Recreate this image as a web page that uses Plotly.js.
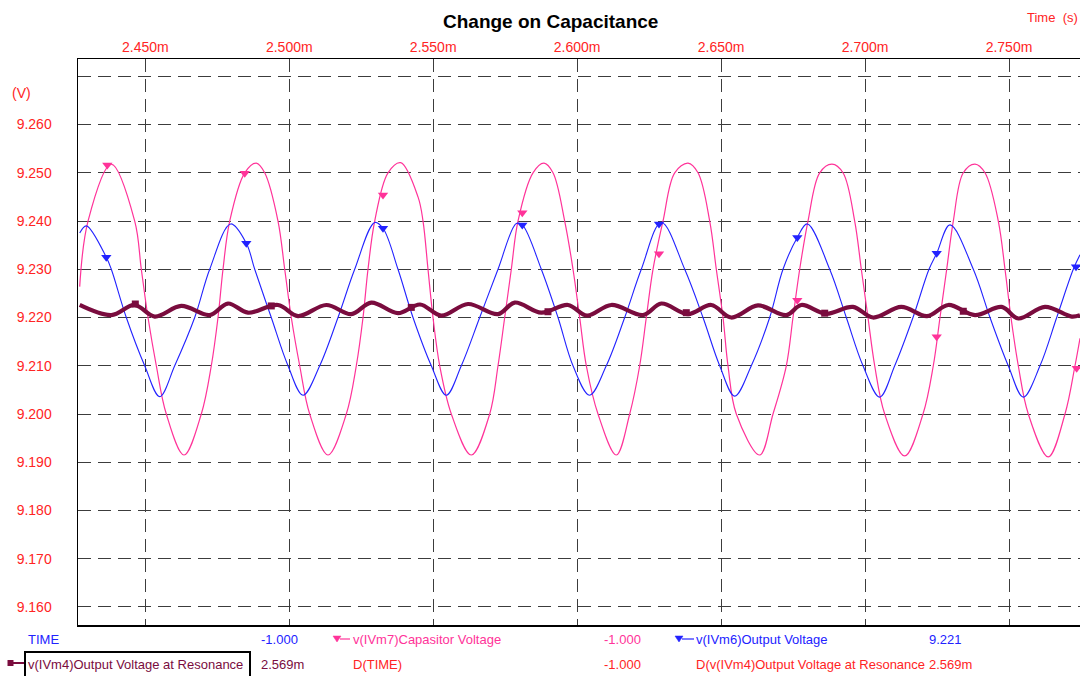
<!DOCTYPE html>
<html>
<head>
<meta charset="utf-8">
<script src="https://cdn.plot.ly/plotly-3.0.1.min.js"></script>
<style>
html,body{margin:0;padding:0;background:#fff;}
#chart{width:1080px;height:676px;}
</style>
</head>
<body>
<div id="chart"></div>
<script>
// ---------- data (time in ms, voltage in V) ----------
const pinkT = [2.42721,2.43010,2.43819,2.44632,2.44861,2.45094,2.45382,2.45729,2.46344,2.46945,2.47292,2.47525,2.47699,2.47932,2.48453,2.48855,2.49147,2.49609,2.49842,2.50071,2.50363,2.50710,2.51346,2.51982,2.52329,2.52562,2.52735,2.52968,2.53430,2.53871,2.54472,2.54646,2.54819,2.54993,2.55226,2.55629,2.56323,2.56962,2.57251,2.57483,2.57713,2.57945,2.58466,2.58848,2.59161,2.59567,2.59856,2.60088,2.60318,2.60724,2.61360,2.61825,2.62172,2.62402,2.62634,2.62982,2.63388,2.63850,2.64198,2.64604,2.64833,2.65066,2.65239,2.65528,2.66341,2.66803,2.67265,2.67497,2.67730,2.68018,2.68425,2.68852,2.69234,2.69640,2.69870,2.70102,2.70335,2.70682,2.71377,2.72013,2.72370,2.72603,2.72836,2.73065,2.73412,2.73819,2.74166,2.74628,2.74861,2.75069,2.75323,2.75670,2.76365,2.76945,2.77292,2.77466];
const pinkV = [9.2264,9.2400,9.2518,9.2400,9.2300,9.2200,9.2100,9.2000,9.1915,9.2000,9.2100,9.2200,9.2300,9.2400,9.2500,9.2520,9.2500,9.2400,9.2300,9.2200,9.2100,9.2000,9.1915,9.2000,9.2100,9.2200,9.2300,9.2400,9.2500,9.2521,9.2450,9.2400,9.2300,9.2200,9.2100,9.2000,9.1915,9.2000,9.2100,9.2200,9.2300,9.2400,9.2500,9.2520,9.2500,9.2400,9.2300,9.2200,9.2100,9.2000,9.1915,9.2000,9.2100,9.2200,9.2300,9.2400,9.2500,9.2520,9.2500,9.2400,9.2300,9.2200,9.2100,9.2000,9.1915,9.2000,9.2100,9.2200,9.2300,9.2400,9.2500,9.2518,9.2500,9.2400,9.2300,9.2200,9.2100,9.2000,9.1913,9.2000,9.2100,9.2200,9.2300,9.2400,9.2500,9.2518,9.2500,9.2400,9.2300,9.2200,9.2100,9.2000,9.1911,9.2000,9.2100,9.2157];

const blueT = [2.42721,2.42951,2.43645,2.43819,2.44340,2.44979,2.45500,2.46021,2.46716,2.47237,2.47966,2.48508,2.48800,2.49376,2.49957,2.50478,2.51058,2.51693,2.52273,2.52968,2.53256,2.53777,2.54298,2.54934,2.55455,2.55976,2.56615,2.57251,2.57886,2.58095,2.58755,2.59335,2.59856,2.60429,2.61012,2.61651,2.62228,2.62923,2.63736,2.64371,2.64951,2.65472,2.66049,2.66688,2.67150,2.67647,2.67994,2.68772,2.69349,2.69929,2.70509,2.71030,2.71665,2.72221,2.72488,2.72950,2.73760,2.74340,2.74975,2.75496,2.76077,2.76657,2.77233,2.77466];
const blueV = [9.2375,9.2390,9.2325,9.2300,9.2200,9.2100,9.2036,9.2100,9.2200,9.2300,9.2394,9.2354,9.2300,9.2200,9.2100,9.2039,9.2100,9.2200,9.2300,9.2397,9.2385,9.2300,9.2200,9.2100,9.2039,9.2100,9.2200,9.2300,9.2395,9.2392,9.2300,9.2200,9.2100,9.2039,9.2100,9.2200,9.2300,9.2397,9.2300,9.2200,9.2100,9.2037,9.2100,9.2200,9.2300,9.2366,9.2394,9.2300,9.2200,9.2100,9.2035,9.2100,9.2200,9.2300,9.2333,9.2392,9.2300,9.2200,9.2100,9.2035,9.2100,9.2200,9.2300,9.2330];

const maroonT = [2.42721,2.43819,2.44632,2.45327,2.46250,2.47237,2.47872,2.48567,2.49609,2.50304,2.51287,2.52155,2.52850,2.53777,2.54541,2.55281,2.56209,2.57251,2.57831,2.58755,2.59682,2.60342,2.61186,2.62287,2.62923,2.63850,2.64659,2.65354,2.66281,2.67265,2.67786,2.68643,2.69581,2.70276,2.71259,2.72152,2.72891,2.73819,2.74746,2.75323,2.76250,2.77178,2.77466];
const maroonV = [9.2226,9.2205,9.2226,9.2202,9.2224,9.2205,9.2229,9.2210,9.2226,9.2203,9.2226,9.2207,9.2231,9.2209,9.2227,9.2204,9.2228,9.2207,9.2231,9.2210,9.2226,9.2204,9.2226,9.2205,9.2229,9.2207,9.2226,9.2200,9.2225,9.2205,9.2226,9.2208,9.2222,9.2200,9.2222,9.2203,9.2226,9.2205,9.2222,9.2198,9.2222,9.2202,9.2205];

const pinkMkT = [2.43680,2.48453,2.53256,2.58095,2.62843,2.67647,2.72488,2.77351];
const pinkMkV = [9.2516,9.2499,9.2454,9.2417,9.2332,9.2236,9.2160,9.2095];
const blueMkT = [2.43645,2.48508,2.53256,2.58095,2.62843,2.67647,2.72488,2.77327];
const blueMkV = [9.2325,9.2354,9.2385,9.2392,9.2394,9.2366,9.2333,9.2305];
const maroonMkT = [2.44653,2.49376,2.54239,2.58987,2.63791,2.68598,2.73412];
const maroonMkV = [9.2228,9.2224,9.2221,9.2212,9.2210,9.2209,9.2213];

const xTickVals = [2.45,2.50,2.55,2.60,2.65,2.70,2.75];
const xTickText = ['2.450m','2.500m','2.550m','2.600m','2.650m','2.700m','2.750m'];
const yTickVals = [9.16,9.17,9.18,9.19,9.20,9.21,9.22,9.23,9.24,9.25,9.26,9.27];
const yTickText = ['9.160','9.170','9.180','9.190','9.200','9.210','9.220','9.230','9.240','9.250','9.260',''];

const row1Labels = ['TIME','-1.000','v(IVm7)Capasitor Voltage','-1.000','v(IVm6)Output Voltage','9.221'];
const row2Labels = ['v(IVm4)Output Voltage at Resonance','2.569m','D(TIME)','-1.000','D(v(IVm4)Output Voltage at Resonance','2.569m'];

// ---------- styling ----------
const PINK = '#ff3399', BLUE = '#2222ff', MAROON = '#7a0c3e', RED = '#ff2424';
const FONT = 'Liberation Sans, Arial, sans-serif';
const L = 78, R = 1080, T = 59, B = 625;
const px = x => (x - L) / (R - L);
const py = y => (B - y) / (B - T);

const traces = [
  {x: pinkT, y: pinkV, mode: 'lines', line: {color: PINK, width: 1.2, shape: 'spline', smoothing: 1}, hoverinfo: 'skip'},
  {x: blueT, y: blueV, mode: 'lines', line: {color: BLUE, width: 1.1, shape: 'spline', smoothing: 1}, hoverinfo: 'skip'},
  {x: maroonT, y: maroonV, mode: 'lines', line: {color: MAROON, width: 4.2, shape: 'spline', smoothing: 1}, hoverinfo: 'skip'},
  {x: pinkMkT, y: pinkMkV, mode: 'markers', marker: {symbol: 'triangle-down', size: 9, color: PINK}, hoverinfo: 'skip'},
  {x: blueMkT, y: blueMkV, mode: 'markers', marker: {symbol: 'triangle-down', size: 9, color: BLUE}, hoverinfo: 'skip'},
  {x: maroonMkT, y: maroonMkV, mode: 'markers', marker: {symbol: 'square', size: 7, color: MAROON}, hoverinfo: 'skip'}
];

const rowX = [26, 259, 351, 602, 694, 927];
const row1Colors = [BLUE, BLUE, PINK, PINK, BLUE, BLUE];
const row2Colors = [MAROON, MAROON, RED, RED, RED, RED];
const annotations = [];
row1Labels.forEach((t, i) => annotations.push({text: t, x: px(rowX[i]), y: py(639), xref: 'paper', yref: 'paper', xanchor: 'left', yanchor: 'middle', showarrow: false, font: {family: FONT, size: 13, color: row1Colors[i]}}));
row2Labels.forEach((t, i) => annotations.push({text: t, x: px(rowX[i]), y: py(664), xref: 'paper', yref: 'paper', xanchor: 'left', yanchor: 'middle', showarrow: false, font: {family: FONT, size: 13, color: row2Colors[i]}}));
annotations.push({text: '<b>Change on Capacitance</b>', x: px(550), y: py(22), xref: 'paper', yref: 'paper', xanchor: 'center', yanchor: 'middle', showarrow: false, font: {family: FONT, size: 19, color: '#000'}});
annotations.push({text: 'Time  (s)', x: px(1080), y: py(18), xref: 'paper', yref: 'paper', xanchor: 'right', yanchor: 'middle', showarrow: false, font: {family: FONT, size: 13, color: RED}});
annotations.push({text: '(V)', x: px(10), y: py(93), xref: 'paper', yref: 'paper', xanchor: 'left', yanchor: 'middle', showarrow: false, font: {family: FONT, size: 14, color: RED}});

function tri(cx, cy, c) {
  return {type: 'path', xref: 'paper', yref: 'paper', path: `M ${px(cx-4)} ${py(cy-3)} L ${px(cx+4)} ${py(cy-3)} L ${px(cx)} ${py(cy+3)} Z`, fillcolor: c, line: {color: c, width: 0.5}};
}
function seg(x0, x1, y, c, w) {
  return {type: 'line', xref: 'paper', yref: 'paper', x0: px(x0), x1: px(x1), y0: py(y), y1: py(y), line: {color: c, width: w}};
}
const shapes = [
  tri(337, 639, PINK), seg(340, 350, 639, PINK, 1.2),
  tri(679, 639, BLUE), seg(682, 694, 639, BLUE, 1.2),
  {type: 'rect', xref: 'paper', yref: 'paper', x0: px(7.5), x1: px(13.5), y0: py(660), y1: py(666), fillcolor: MAROON, line: {width: 0}},
  seg(13, 26, 663, MAROON, 2),
  {type: 'rect', xref: 'paper', yref: 'paper', x0: px(25), x1: px(250), y0: py(652), y1: py(678), fillcolor: 'rgba(0,0,0,0)', line: {color: '#000', width: 2}}
];

const layout = {
  width: 1080, height: 676,
  margin: {l: L, r: 1080 - R, t: T, b: 676 - B, pad: 0},
  paper_bgcolor: '#fff', plot_bgcolor: '#fff',
  showlegend: false,
  xaxis: {
    range: [2.42662, 2.77466], side: 'top',
    tickvals: xTickVals, ticktext: xTickText,
    tickfont: {family: FONT, size: 14, color: RED},
    ticks: '', 
    showgrid: true, gridcolor: '#3c3c3c', gridwidth: 1, griddash: '13px,7px',
    showline: true, linecolor: '#000', linewidth: 1.5, mirror: true,
    zeroline: false, fixedrange: true
  },
  yaxis: {
    range: [9.15626, 9.27359],
    tickvals: yTickVals, ticktext: yTickText,
    tickfont: {family: FONT, size: 14, color: RED},
    ticks: 'outside', ticklen: 22, tickcolor: 'rgba(0,0,0,0)',
    showgrid: true, gridcolor: '#3c3c3c', gridwidth: 1, griddash: '13px,7px',
    showline: true, linecolor: '#000', linewidth: 1.5,
    zeroline: false, fixedrange: true
  },
  annotations: annotations,
  shapes: shapes
};

Plotly.newPlot('chart', traces, layout, {staticPlot: true, displayModeBar: false});
</script>
</body>
</html>
